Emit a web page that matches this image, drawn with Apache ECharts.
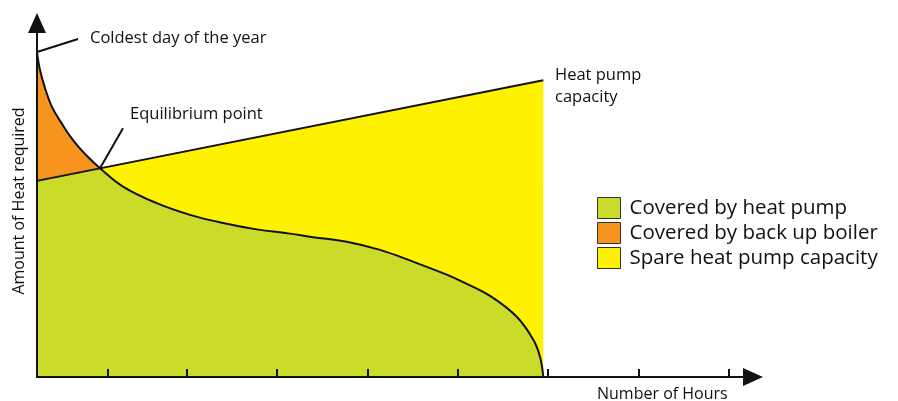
<!DOCTYPE html>
<html>
<head>
<meta charset="utf-8">
<script src="https://cdn.jsdelivr.net/npm/echarts@6/dist/echarts.min.js"></script>
<style>html,body{margin:0;padding:0;background:#fff}#c{width:898px;height:401px}</style>
</head>
<body>
<div id="c"></div>
<script>
// Load-duration curve (heat required), x = share of hours (0-100), y = heat (0-100)
const curveX = [0, 0.42, 1.12, 2.09, 3.49, 5.03, 6.84, 8.80, 12.01, 16.72, 21.37, 25.98, 30.68, 35.34, 38.55, 43.25, 47.91, 52.51, 57.22, 59.08, 63.27, 67.00, 69.32, 70.25, 70.71];
const curveY = [91.8, 86.7, 81.6, 76.3, 71.5, 66.9, 62.7, 59.0, 53.8, 49.1, 45.8, 43.5, 41.7, 40.5, 39.5, 38.2, 35.9, 32.6, 28.9, 27.2, 22.9, 17.0, 10.5, 5.7, 0];
// Heat pump capacity line
const capacityX = [0, 70.71];
const capacityY = [55.4, 83.8];
// Equilibrium point (curve meets capacity)
const equilibriumX = 8.80;
const equilibriumY = 59.0;
// x-axis tick positions
const tickValues = [0, 9.92, 20.95, 33.52, 46.23, 58.80, 71.37, 84.08, 96.65];
// leader lines for annotations
const coldestLeader = [[0, 91.8], [5.73, 95.5]];
const equilibriumLeader = [[8.80, 59.0], [12.01, 70.3]];
const legendNames = ['Covered by heat pump', 'Covered by back up boiler', 'Spare heat pump capacity'];

const GREEN = '#CBDB2A', ORANGE = '#F7941D', YELLOW = '#FFF200', INK = '#111';
const FONT = '"Open Sans", "Noto Sans", sans-serif';
const SMOOTH = 0.4;

const curve = curveX.map((x, i) => [x, curveY[i]]);
const capacity = capacityX.map((x, i) => [x, capacityY[i]]);
const orangeData = curve.filter(p => p[0] <= equilibriumX);
const greenLineData = [[capacityX[0], capacityY[0]], [equilibriumX, equilibriumY]];
const greenCurveData = curve.filter(p => p[0] >= equilibriumX);

const chart = echarts.init(document.getElementById('c'), null, {renderer: 'canvas'});
const areaBase = {type: 'line', showSymbol: false, symbol: 'none', smooth: SMOOTH, lineStyle: {width: 0}, silent: true, animation: false};
chart.setOption({
  animation: false,
  grid: {left: 37, right: 145, top: 23, bottom: 24},
  xAxis: {
    type: 'value', min: 0, max: 100, z: 10,
    axisLine: {show: true, onZero: true, symbol: ['none', 'triangle'], symbolSize: [18, 20], lineStyle: {color: INK, width: 2}},
    axisTick: {show: true, inside: true, length: 8, customValues: tickValues, lineStyle: {color: INK, width: 2}},
    axisLabel: {show: false}, splitLine: {show: false}
  },
  yAxis: {
    type: 'value', min: 0, max: 100, z: 10,
    axisLine: {show: true, symbol: ['none', 'triangle'], symbolSize: [18, 20], lineStyle: {color: INK, width: 2}},
    axisTick: {show: false}, axisLabel: {show: false}, splitLine: {show: false}
  },
  legend: {
    data: legendNames, orient: 'vertical', left: 597, top: 197, padding: 0,
    itemWidth: 23, itemHeight: 21, itemGap: 3, icon: 'rect',
    itemStyle: {borderColor: '#333', borderWidth: 1},
    textStyle: {fontFamily: FONT, fontSize: 20.5, color: '#111', lineHeight: 21, padding: [0, 0, 0, 4]},
    selectedMode: false
  },
  series: [
    Object.assign({}, areaBase, {name: legendNames[1], z: 1, data: orangeData, itemStyle: {color: ORANGE}, areaStyle: {color: ORANGE, opacity: 1}}),
    Object.assign({}, areaBase, {name: legendNames[2], z: 2, data: capacity, smooth: false, itemStyle: {color: YELLOW}, areaStyle: {color: YELLOW, opacity: 1}}),
    Object.assign({}, areaBase, {name: legendNames[0], z: 3, data: greenLineData, smooth: false, itemStyle: {color: GREEN}, areaStyle: {color: GREEN, opacity: 1}}),
    Object.assign({}, areaBase, {name: legendNames[0], z: 3, data: greenCurveData, itemStyle: {color: GREEN}, areaStyle: {color: GREEN, opacity: 1}}),
    {type: 'line', z: 4, data: curve, showSymbol: false, symbol: 'none', smooth: SMOOTH, lineStyle: {color: INK, width: 2}, silent: true},
    {type: 'line', z: 4, data: capacity, showSymbol: false, symbol: 'none', lineStyle: {color: INK, width: 2}, silent: true},
    {type: 'line', z: 4, data: coldestLeader, showSymbol: false, symbol: 'none', lineStyle: {color: INK, width: 2}, silent: true},
    {type: 'line', z: 4, data: equilibriumLeader, showSymbol: false, symbol: 'none', lineStyle: {color: INK, width: 2}, silent: true}
  ],
  graphic: [
    {type: 'text', x: 90, y: 38, style: {text: 'Coldest day of the year', fontFamily: FONT, fontSize: 16.5, fill: '#111', verticalAlign: 'middle'}},
    {type: 'text', x: 130, y: 114, style: {text: 'Equilibrium point', fontFamily: FONT, fontSize: 16.5, fill: '#111', verticalAlign: 'middle'}},
    {type: 'text', x: 555, y: 75, style: {text: 'Heat pump', fontFamily: FONT, fontSize: 16.5, fill: '#111', verticalAlign: 'middle'}},
    {type: 'text', x: 555, y: 97, style: {text: 'capacity', fontFamily: FONT, fontSize: 16.5, fill: '#111', verticalAlign: 'middle'}},
    {type: 'text', x: 597, y: 394, style: {text: 'Number of Hours', fontFamily: FONT, fontSize: 16, fill: '#111', verticalAlign: 'middle'}},
    {type: 'text', x: 19, y: 201, rotation: Math.PI / 2, style: {text: 'Amount of Heat required', fontFamily: FONT, fontSize: 16, fill: '#111', align: 'center', verticalAlign: 'middle'}}
  ]
});
</script>
</body>
</html>
